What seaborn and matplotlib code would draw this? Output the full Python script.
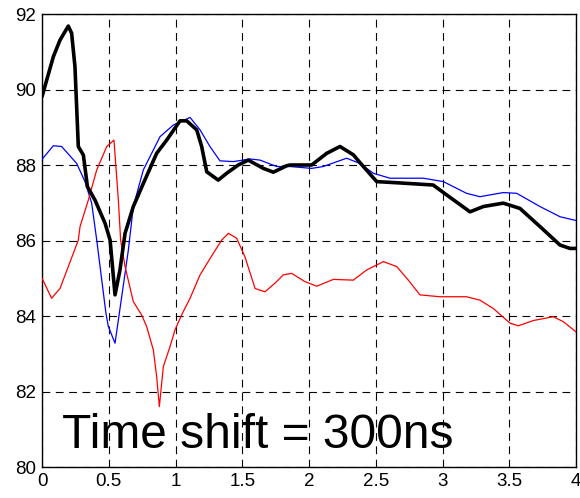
import numpy as np
import pandas as pd
import matplotlib
matplotlib.use("Agg")
import matplotlib.pyplot as plt
import seaborn as sns

# Black (thick) series
black_x = [0, 0.085, 0.135, 0.197, 0.222, 0.247, 0.272, 0.31, 0.34, 0.397, 0.472, 0.51, 0.547,
           0.584, 0.622, 0.684, 0.759, 0.859, 0.934, 1.034, 1.084, 1.159, 1.196, 1.234, 1.32,
           1.383, 1.47, 1.545, 1.658, 1.733, 1.833, 1.858, 2.02, 2.133, 2.232, 2.332, 2.407,
           2.507, 2.657, 2.93, 3.03, 3.206, 3.306, 3.455, 3.58, 3.73, 3.88, 3.955, 4.0]
black_y = [89.81, 90.87, 91.31, 91.68, 91.49, 90.60, 88.49, 88.26, 87.43, 87.07, 86.46, 86.01, 84.56,
           85.22, 86.19, 86.90, 87.51, 88.31, 88.66, 89.17, 89.17, 88.93, 88.49, 87.82, 87.60,
           87.78, 88.00, 88.13, 87.91, 87.81, 87.98, 88.00, 88.00, 88.31, 88.49, 88.27, 87.96,
           87.56, 87.53, 87.47, 87.21, 86.76, 86.90, 86.99, 86.85, 86.37, 85.88, 85.79, 85.79]

# Blue (thin) series
blue_x = [0, 0.085, 0.147, 0.26, 0.322, 0.372, 0.41, 0.479, 0.497, 0.547, 0.597, 0.647, 0.684,
          0.759, 0.884, 0.984, 1.109, 1.184, 1.258, 1.333, 1.433, 1.558, 1.633, 1.758, 1.858,
          2.02, 2.107, 2.282, 2.382, 2.482, 2.607, 2.857, 3.006, 3.18, 3.28, 3.455, 3.556,
          3.73, 3.88, 4.0]
blue_y = [88.15, 88.51, 88.49, 88.04, 87.56, 86.99, 86.01, 84.07, 83.72, 83.28, 84.51, 85.75, 86.90,
          87.87, 88.75, 89.06, 89.26, 88.93, 88.49, 88.11, 88.09, 88.16, 88.13, 87.96, 87.96,
          87.91, 87.96, 88.18, 88.04, 87.78, 87.65, 87.65, 87.56, 87.25, 87.16, 87.27, 87.25,
          86.90, 86.63, 86.53]

# Red (thin) series
red_x = [0, 0.072, 0.135, 0.197, 0.272, 0.285, 0.347, 0.41, 0.485, 0.539, 0.572, 0.589, 0.622,
         0.684, 0.746, 0.784, 0.834, 0.859, 0.879, 0.909, 0.959, 0.996, 1.046, 1.109, 1.184,
         1.283, 1.346, 1.396, 1.458, 1.52, 1.596, 1.67, 1.745, 1.808, 1.87, 1.97, 2.058, 2.183,
         2.332, 2.432, 2.557, 2.657, 2.744, 2.831, 2.98, 3.18, 3.28, 3.38, 3.506, 3.568, 3.68,
         3.83, 3.905, 4.0]
red_y = [85.0, 84.47, 84.73, 85.31, 86.01, 86.37, 87.07, 87.87, 88.49, 88.66, 87.07, 86.01, 85.31,
         84.38, 84.03, 83.72, 83.10, 82.39, 81.60, 82.66, 83.19, 83.63, 84.03, 84.47, 85.09,
         85.66, 86.01, 86.19, 86.06, 85.57, 84.73, 84.64, 84.87, 85.09, 85.13, 84.91, 84.79, 84.97,
         84.95, 85.22, 85.44, 85.31, 84.95, 84.56, 84.51, 84.51, 84.42, 84.20, 83.81, 83.74, 83.88,
         83.98, 83.85, 83.58]

x_ticks = [0, 0.5, 1, 1.5, 2, 2.5, 3, 3.5, 4]
x_tick_labels = ["0", "0.5", "1", "1.5", "2", "2.5", "3", "3.5", "4"]
y_ticks = [80, 82, 84, 86, 88, 90, 92]
y_tick_labels = ["80", "82", "84", "86", "88", "90", "92"]
annotation = "Time shift = 300ns"

sns.set_style("white")
plt.rcParams['font.family'] = ['Liberation Sans', 'DejaVu Sans']

fig = plt.figure(figsize=(5.8, 4.98), dpi=100)
ax = fig.add_axes([42/580, 31/498, 534/580, 453/498])

df_blue = pd.DataFrame({"x": blue_x, "y": blue_y})
df_red = pd.DataFrame({"x": red_x, "y": red_y})
df_black = pd.DataFrame({"x": black_x, "y": black_y})

sns.lineplot(data=df_blue, x="x", y="y", ax=ax, color="#0000ff", linewidth=0.9, sort=False, zorder=3)
sns.lineplot(data=df_red, x="x", y="y", ax=ax, color="#ff0000", linewidth=0.9, sort=False, zorder=3)
sns.lineplot(data=df_black, x="x", y="y", ax=ax, color="black", linewidth=2.6, sort=False, zorder=4)

ax.set_xlim(0, 4)
ax.set_ylim(80, 92)
ax.set_xticks(x_ticks)
ax.set_xticklabels(x_tick_labels)
ax.set_yticks(y_ticks)
ax.set_yticklabels(y_tick_labels)
ax.set_xlabel("")
ax.set_ylabel("")
ax.tick_params(axis="both", labelsize=13.5, direction="in", length=4, width=0.8,
               colors="black", pad=4)
ax.grid(True, color="black", linestyle=(0, (7, 5)), linewidth=0.8)
for s in ax.spines.values():
    s.set_color("black")
    s.set_linewidth(1.0)
    s.set_visible(True)

ax.text(0.15, 80.5, annotation, fontsize=34.5, color="black", ha="left", va="baseline", zorder=5)

fig.savefig("out.png", dpi=100)
